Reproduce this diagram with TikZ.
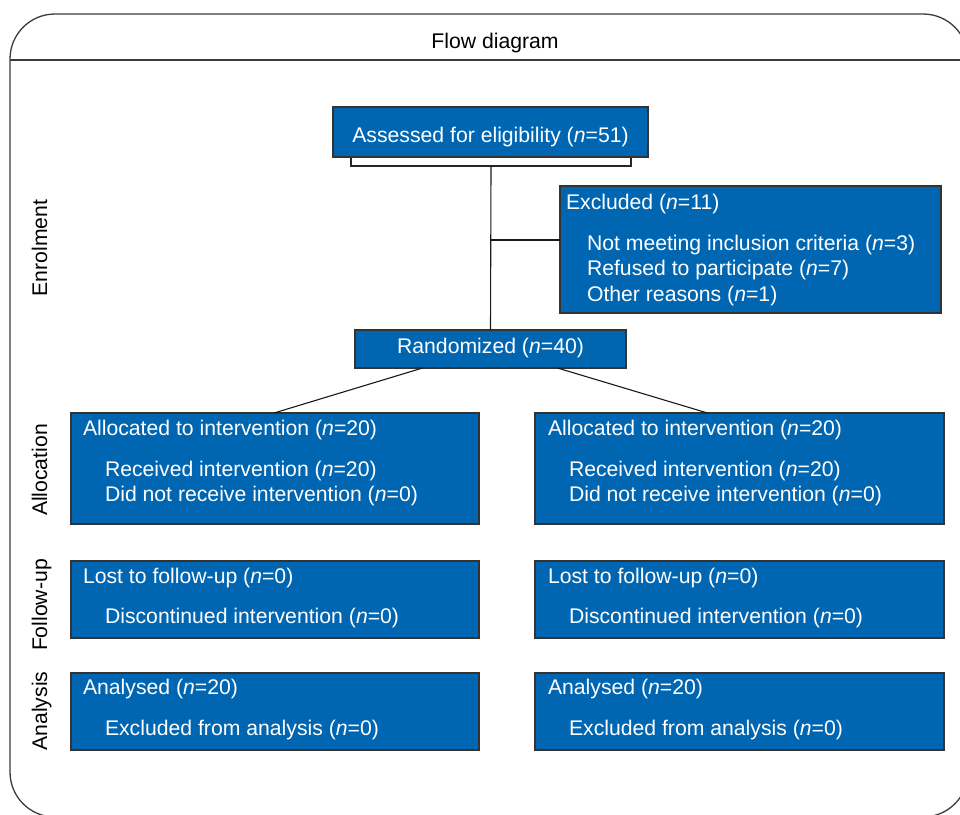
\documentclass[tikz,border=0pt]{standalone}
\usepackage{fontspec}
\setmainfont{Liberation Sans}
\definecolor{boxblue}{RGB}{0,102,178}
\definecolor{framegray}{RGB}{60,60,60}
\begin{document}
\begin{tikzpicture}[x=1pt,y=-1pt,
  every node/.style={inner sep=0pt, outer sep=0pt},
  bluebox/.style={draw=black!80, line width=1.1pt, fill=boxblue, anchor=north west},
  txt/.style={anchor=base west, text=white, font=\fontsize{21.2}{25}\selectfont},
  ctxt/.style={txt, anchor=base},
  lbl/.style={text=black, font=\fontsize{21.2}{25}\selectfont},
  side/.style={lbl, rotate=90, anchor=base},
  conn/.style={draw=black!90, line width=1.1pt},
  frameline/.style={draw=framegray, line width=1.3pt}]
\useasboundingbox (0,0) rectangle (960,814);
\clip (0,0) rectangle (960,814);
\fill[white] (0,0) rectangle (960,814);
% outer frame
\draw[frameline, rounded corners=45pt] (10,817) rectangle (968,14);
\draw[frameline] (10,60) -- (960,60);
\node[lbl, anchor=base] (title) at (495,48) {Flow diagram};
% side labels
\node[side] (lenrol) at (47,248) {Enrolment};
\node[side] (lalloc) at (47,470) {Allocation};
\node[side] (lfollow) at (47,605) {Follow-up};
\node[side] (lanaly) at (47,711) {Analysis};
% enrolment
\node[draw=black!85, line width=1.1pt, fill=white, anchor=north west,
  minimum width=280pt, minimum height=26pt] (strip) at (351,140) {};
\node[bluebox, minimum width=315pt, minimum height=50pt] (assess) at (333,107) {};
\node[ctxt] (assesstxt) at (490.5,142.5) {Assessed for eligibility (\textit{n}=51)};
\node[bluebox, minimum width=381pt, minimum height=127pt] (excl) at (560,186) {};
\node[txt] (e1) at (566,209) {Excluded (\textit{n}=11)};
\node[txt] (e2) at (587,250) {Not meeting inclusion criteria (\textit{n}=3)};
\node[txt] (e3) at (587,275) {Refused to participate (\textit{n}=7)};
\node[txt] (e4) at (587,301) {Other reasons (\textit{n}=1)};
\node[bluebox, minimum width=271pt, minimum height=38pt] (rand) at (355,330) {};
\node[ctxt] (randtxt) at (490.5,353.5) {Randomized (\textit{n}=40)};
\coordinate (junc) at (490.5,240);
\draw[conn] (strip.south) -- (rand.north);
\draw[conn] (junc) -- (junc -| excl.west);
% allocation
\node[bluebox, minimum width=408pt, minimum height=111pt] (allocL) at (71,413) {};
\node[bluebox, minimum width=409pt, minimum height=111pt] (allocR) at (535,413) {};
\draw[conn] ([xshift=-68pt]rand.south) -- ([xshift=-1pt]allocL.north);
\draw[conn] ([xshift=67pt]rand.south) -- ([xshift=-32pt]allocR.north);
\node[txt] (aL1) at (83,435) {Allocated to intervention (\textit{n}=20)};
\node[txt] (aL2) at (105,476) {Received intervention (\textit{n}=20)};
\node[txt] (aL3) at (105,501) {Did not receive intervention (\textit{n}=0)};
\node[txt] (aR1) at (548,435) {Allocated to intervention (\textit{n}=20)};
\node[txt] (aR2) at (569,476) {Received intervention (\textit{n}=20)};
\node[txt] (aR3) at (569,501) {Did not receive intervention (\textit{n}=0)};
% follow-up
\node[bluebox, minimum width=408pt, minimum height=77pt] (folL) at (71,561) {};
\node[bluebox, minimum width=409pt, minimum height=77pt] (folR) at (535,561) {};
\node[txt] (fL1) at (83,583) {Lost to follow-up (\textit{n}=0)};
\node[txt] (fL2) at (105,623) {Discontinued intervention (\textit{n}=0)};
\node[txt] (fR1) at (548,583) {Lost to follow-up (\textit{n}=0)};
\node[txt] (fR2) at (569,623) {Discontinued intervention (\textit{n}=0)};
% analysis
\node[bluebox, minimum width=408pt, minimum height=77pt] (anL) at (71,673) {};
\node[bluebox, minimum width=409pt, minimum height=77pt] (anR) at (535,673) {};
\node[txt] (nL1) at (83,694) {Analysed (\textit{n}=20)};
\node[txt] (nL2) at (105,735) {Excluded from analysis (\textit{n}=0)};
\node[txt] (nR1) at (548,694) {Analysed (\textit{n}=20)};
\node[txt] (nR2) at (569,735) {Excluded from analysis (\textit{n}=0)};
\end{tikzpicture}
\end{document}
